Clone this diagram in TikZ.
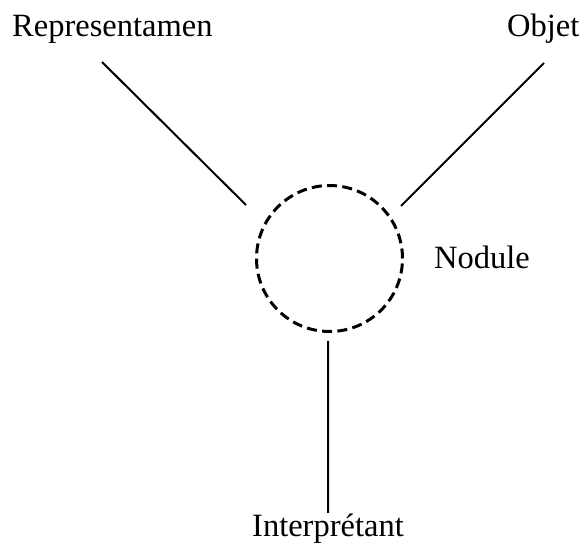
\documentclass[tikz,border=0pt]{standalone}
\usepackage{fontspec}
\setmainfont{Liberation Serif}
\usepackage{tikz}
\usetikzlibrary{calc}

\begin{document}
\begin{tikzpicture}[x=1pt,y=-1pt,
	lbl/.style={inner sep=0pt,font=\fontsize{32.5}{38}\selectfont},
	branch/.style={line width=2pt}]
	
	\useasboundingbox (0,0) rectangle (582,545);
	
	\coordinate (C) at (329.5,258.5); % the nodule centre
	
	\coordinate (R1) at (102,62);
	\coordinate (R2) at (246,205);
	\coordinate (O1) at (544,63);
	\coordinate (O2) at (401,206);
	\coordinate (I1) at (328,341);
	\coordinate (I2) at (328,513);
	
	\node[circle,draw,line width=3pt,dash pattern=on 10pt off 5.3pt,
		minimum size=146pt,inner sep=0pt] (nod) at (C) {};
	
	\node[lbl,anchor=base west] (rep) at (12,37) {Representamen};
	\node[lbl,anchor=base west] (obj) at (507,37) {Objet};
	\node[lbl,anchor=base west] (nodl) at (434,269) {Nodule};
	\node[lbl,anchor=base west] (int) at (252,537) {Interprétant};
	
	\draw[branch] (R1)--(R2) (O1)--(O2) (I1)--(I2);
	
\end{tikzpicture}
\end{document}
